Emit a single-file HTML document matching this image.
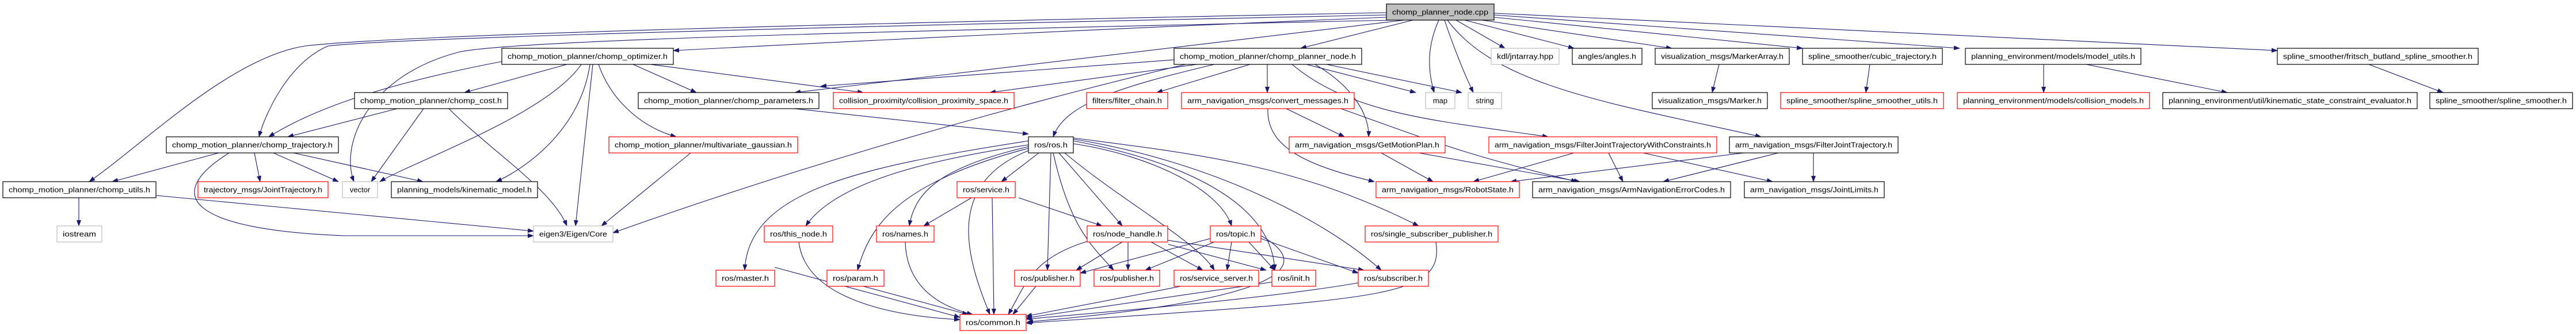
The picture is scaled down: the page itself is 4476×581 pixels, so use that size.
<!DOCTYPE html>
<html><head><meta charset="utf-8"><style>
html,body{margin:0;padding:0;background:#fff}
svg{display:block}
text{font-family:"Liberation Sans",sans-serif;font-size:13px;fill:#000}
.b{fill:#fff;stroke:#000;stroke-width:1.2}
.r{fill:#fff;stroke:#f00;stroke-width:1.2}
.g{fill:#fff;stroke:#bfbfbf;stroke-width:1.2}
path{fill:none;stroke:#191970;stroke-width:1.1}
</style></head><body>
<svg width="4476" height="581" viewBox="0 0 4476 581" xmlns="http://www.w3.org/2000/svg">
<defs><marker id="a" markerWidth="11" markerHeight="8" refX="10" refY="4" orient="auto" markerUnits="userSpaceOnUse"><polygon points="0,0 11,4 0,8" fill="#191970"/></marker></defs>
<g marker-end="url(#a)">
<path d="M2409,22 C1500,40 700,60 530,80 C400,100 250,250 155,316"/>
<path d="M2409,26 C1500,45 700,65 570,80 C500,110 460,200 450,238"/>
<path d="M2409,30 Q1800,55 1170,88"/>
<path d="M2420,35 C1500,55 900,70 800,90 C640,130 590,250 615,316"/>
<path d="M2440,35 Q1900,100 1381,161"/>
<path d="M2455,35 L2260,84"/>
<path d="M2500,35 C2480,80 2480,120 2492,161"/>
<path d="M2510,35 C2525,80 2545,130 2560,161"/>
<path d="M2530,35 L2615,84"/>
<path d="M2545,35 L2735,84"/>
<path d="M2575,35 L2905,84"/>
<path d="M2596,30 L3132,84"/>
<path d="M2596,26 L3405,84"/>
<path d="M2596,23 L3957,88"/>
<path d="M2515,35 C2600,150 2800,180 3060,238"/>
<path d="M872,107 C700,140 560,180 467,238"/>
<path d="M985,112 L807,161"/>
<path d="M1010,112 C950,200 720,280 660,316"/>
<path d="M1025,112 C1010,220 920,290 862,316"/>
<path d="M1030,112 L1000,393"/>
<path d="M1100,112 L1210,161"/>
<path d="M1130,112 L1500,161"/>
<path d="M1040,112 C1060,170 1110,220 1175,238"/>
<path d="M1200,266 L1045,393"/>
<path d="M690,189 L500,238"/>
<path d="M736,189 L645,316"/>
<path d="M780,189 C850,260 960,330 985,393"/>
<path d="M380,266 L195,316"/>
<path d="M442,266 L452,316"/>
<path d="M475,266 L588,316"/>
<path d="M510,266 L735,316"/>
<path d="M398,266 C280,340 330,400 600,410 L927,410"/>
<path d="M137,344 L137,393"/>
<path d="M271,340 L927,402"/>
<path d="M1380,189 L1787,233"/>
<path d="M2040,104 L1426,150"/>
<path d="M2080,112 L1720,161"/>
<path d="M2110,112 C1950,150 1850,180 1830,238"/>
<path d="M2172,112 L2010,161"/>
<path d="M2202,112 L2202,161"/>
<path d="M2270,112 L2460,161"/>
<path d="M2305,112 L2540,161"/>
<path d="M2285,112 C2350,150 2380,200 2378,238"/>
<path d="M2245,112 C2350,200 2500,210 2690,238"/>
<path d="M2060,112 C1900,150 1500,250 1065,405"/>
<path d="M2235,189 L2336,238"/>
<path d="M2203,189 C2200,260 2280,290 2388,316"/>
<path d="M2330,189 C2500,250 2550,270 2740,316"/>
<path d="M2400,266 L2490,316"/>
<path d="M2465,266 L2745,316"/>
<path d="M2735,266 L2560,316"/>
<path d="M2795,266 L2820,316"/>
<path d="M2855,266 L3080,316"/>
<path d="M3030,266 L2625,316"/>
<path d="M3090,266 L2890,316"/>
<path d="M3151,266 L3151,316"/>
<path d="M2987,112 L2975,161"/>
<path d="M3249,112 L3242,161"/>
<path d="M3551,112 L3551,161"/>
<path d="M3625,112 L3870,161"/>
<path d="M4116,112 L4245,161"/>
<path d="M1805,266 L1740,316"/>
<path d="M1787,252 C1600,280 1450,320 1400,393"/>
<path d="M1787,255 C1640,290 1590,330 1580,393"/>
<path d="M1840,266 L1950,393"/>
<path d="M1865,250 C2000,270 2120,330 2140,393"/>
<path d="M1787,245 C1500,290 1300,330 1294,470"/>
<path d="M1787,258 C1550,320 1510,400 1490,470"/>
<path d="M1826,266 L1820,470"/>
<path d="M1830,266 C1860,400 1900,430 1935,470"/>
<path d="M1850,266 C1950,350 2080,420 2110,470"/>
<path d="M1787,262 C1640,320 1680,450 1720,547"/>
<path d="M1865,245 C2050,280 2210,350 2215,470"/>
<path d="M1865,242 C2100,280 2300,380 2400,470"/>
<path d="M1865,240 C2100,270 2260,290 2465,393"/>
<path d="M1688,344 L1605,393"/>
<path d="M1770,344 L1915,393"/>
<path d="M1724,344 L1727,547"/>
<path d="M1388,421 C1400,520 1550,550 1668,556"/>
<path d="M1573,421 C1575,490 1620,530 1690,547"/>
<path d="M1950,421 L1870,470"/>
<path d="M1960,421 L1960,470"/>
<path d="M2000,421 L2090,470"/>
<path d="M1889,420 C1790,450 1780,500 1752,547"/>
<path d="M2029,418 L2370,470"/>
<path d="M2030,425 L2200,470"/>
<path d="M2103,415 L1877,475"/>
<path d="M2110,421 L1990,470"/>
<path d="M2140,421 L2132,470"/>
<path d="M2170,421 L2215,470"/>
<path d="M2191,415 L2360,475"/>
<path d="M2191,410 C2280,460 2250,520 1785,560"/>
<path d="M1346,465 L1668,552"/>
<path d="M1500,498 L1682,547"/>
<path d="M1800,498 L1760,547"/>
<path d="M2052,498 L1783,550"/>
<path d="M2360,492 C2200,520 1900,545 1783,555"/>
<path d="M2215,490 L1783,553"/>
<path d="M2495,421 C2510,520 2400,520 1783,562"/>
</g>
<g>
<rect x="2409" y="7" width="187" height="28" style="fill:#bfbfbf;stroke:#000;stroke-width:1.2"/><text x="2502.5" y="25.5" text-anchor="middle" textLength="167" lengthAdjust="spacingAndGlyphs">chomp_planner_node.cpp</text>

<rect class="b" x="872" y="84" width="298" height="28"/><text x="1021" y="102.5" text-anchor="middle" textLength="278" lengthAdjust="spacingAndGlyphs">chomp_motion_planner/chomp_optimizer.h</text>
<rect class="b" x="2040" y="84" width="326" height="28"/><text x="2203" y="102.5" text-anchor="middle" textLength="306" lengthAdjust="spacingAndGlyphs">chomp_motion_planner/chomp_planner_node.h</text>
<rect class="g" x="2591" y="84" width="118" height="28"/><text x="2650" y="102.5" text-anchor="middle" textLength="98" lengthAdjust="spacingAndGlyphs">kdl/jntarray.hpp</text>
<rect class="b" x="2732" y="84" width="121" height="28"/><text x="2792.5" y="102.5" text-anchor="middle" textLength="101" lengthAdjust="spacingAndGlyphs">angles/angles.h</text>
<rect class="b" x="2876" y="84" width="233" height="28"/><text x="2992.5" y="102.5" text-anchor="middle" textLength="213" lengthAdjust="spacingAndGlyphs">visualization_msgs/MarkerArray.h</text>
<rect class="b" x="3132" y="84" width="243" height="28"/><text x="3253.5" y="102.5" text-anchor="middle" textLength="223" lengthAdjust="spacingAndGlyphs">spline_smoother/cubic_trajectory.h</text>
<rect class="b" x="3415" y="84" width="305" height="28"/><text x="3567.5" y="102.5" text-anchor="middle" textLength="285" lengthAdjust="spacingAndGlyphs">planning_environment/models/model_utils.h</text>
<rect class="b" x="3957" y="84" width="349" height="28"/><text x="4131.5" y="102.5" text-anchor="middle" textLength="329" lengthAdjust="spacingAndGlyphs">spline_smoother/fritsch_butland_spline_smoother.h</text>

<rect class="b" x="616" y="161" width="266" height="28"/><text x="749" y="179.5" text-anchor="middle" textLength="246" lengthAdjust="spacingAndGlyphs">chomp_motion_planner/chomp_cost.h</text>
<rect class="b" x="1109" y="161" width="314" height="28"/><text x="1266" y="179.5" text-anchor="middle" textLength="294" lengthAdjust="spacingAndGlyphs">chomp_motion_planner/chomp_parameters.h</text>
<rect class="r" x="1448" y="161" width="314" height="28"/><text x="1605" y="179.5" text-anchor="middle" textLength="294" lengthAdjust="spacingAndGlyphs">collision_proximity/collision_proximity_space.h</text>
<rect class="r" x="1888" y="161" width="141" height="28"/><text x="1958.5" y="179.5" text-anchor="middle" textLength="121" lengthAdjust="spacingAndGlyphs">filters/filter_chain.h</text>
<rect class="r" x="2053" y="161" width="300" height="28"/><text x="2203" y="179.5" text-anchor="middle" textLength="280" lengthAdjust="spacingAndGlyphs">arm_navigation_msgs/convert_messages.h</text>
<rect class="g" x="2477" y="161" width="51" height="28"/><text x="2502.5" y="179.5" text-anchor="middle">map</text>
<rect class="g" x="2551" y="161" width="58" height="28"/><text x="2580" y="179.5" text-anchor="middle">string</text>
<rect class="b" x="2871" y="161" width="200" height="28"/><text x="2971" y="179.5" text-anchor="middle" textLength="180" lengthAdjust="spacingAndGlyphs">visualization_msgs/Marker.h</text>
<rect class="r" x="3094" y="161" width="283" height="28"/><text x="3235.5" y="179.5" text-anchor="middle" textLength="263" lengthAdjust="spacingAndGlyphs">spline_smoother/spline_smoother_utils.h</text>
<rect class="r" x="3401" y="161" width="334" height="28"/><text x="3568" y="179.5" text-anchor="middle" textLength="314" lengthAdjust="spacingAndGlyphs">planning_environment/models/collision_models.h</text>
<rect class="b" x="3758" y="161" width="442" height="28"/><text x="3979" y="179.5" text-anchor="middle" textLength="422" lengthAdjust="spacingAndGlyphs">planning_environment/util/kinematic_state_constraint_evaluator.h</text>
<rect class="b" x="4222" y="161" width="248" height="28"/><text x="4346" y="179.5" text-anchor="middle" textLength="228" lengthAdjust="spacingAndGlyphs">spline_smoother/spline_smoother.h</text>

<rect class="b" x="289" y="238" width="299" height="28"/><text x="438.5" y="256.5" text-anchor="middle" textLength="279" lengthAdjust="spacingAndGlyphs">chomp_motion_planner/chomp_trajectory.h</text>
<rect class="r" x="1058" y="238" width="328" height="28"/><text x="1222" y="256.5" text-anchor="middle" textLength="308" lengthAdjust="spacingAndGlyphs">chomp_motion_planner/multivariate_gaussian.h</text>
<rect class="b" x="1787" y="238" width="78" height="28"/><text x="1826" y="256.5" text-anchor="middle" textLength="58" lengthAdjust="spacingAndGlyphs">ros/ros.h</text>
<rect class="r" x="2240" y="238" width="271" height="28"/><text x="2375.5" y="256.5" text-anchor="middle" textLength="251" lengthAdjust="spacingAndGlyphs">arm_navigation_msgs/GetMotionPlan.h</text>
<rect class="r" x="2587" y="238" width="396" height="28"/><text x="2785" y="256.5" text-anchor="middle" textLength="376" lengthAdjust="spacingAndGlyphs">arm_navigation_msgs/FilterJointTrajectoryWithConstraints.h</text>
<rect class="b" x="3005" y="238" width="293" height="28"/><text x="3151.5" y="256.5" text-anchor="middle" textLength="273" lengthAdjust="spacingAndGlyphs">arm_navigation_msgs/FilterJointTrajectory.h</text>

<rect class="b" x="5" y="316" width="266" height="28"/><text x="138" y="334.5" text-anchor="middle" textLength="246" lengthAdjust="spacingAndGlyphs">chomp_motion_planner/chomp_utils.h</text>
<rect class="r" x="344" y="316" width="226" height="28"/><text x="457" y="334.5" text-anchor="middle" textLength="206" lengthAdjust="spacingAndGlyphs">trajectory_msgs/JointTrajectory.h</text>
<rect class="g" x="595" y="316" width="61" height="28"/><text x="625.5" y="334.5" text-anchor="middle">vector</text>
<rect class="b" x="680" y="316" width="254" height="28"/><text x="807" y="334.5" text-anchor="middle" textLength="234" lengthAdjust="spacingAndGlyphs">planning_models/kinematic_model.h</text>
<rect class="r" x="1663" y="316" width="101" height="28"/><text x="1713.5" y="334.5" text-anchor="middle" textLength="81" lengthAdjust="spacingAndGlyphs">ros/service.h</text>
<rect class="r" x="2391" y="316" width="249" height="28"/><text x="2515.5" y="334.5" text-anchor="middle" textLength="229" lengthAdjust="spacingAndGlyphs">arm_navigation_msgs/RobotState.h</text>
<rect class="b" x="2663" y="316" width="344" height="28"/><text x="2835" y="334.5" text-anchor="middle" textLength="324" lengthAdjust="spacingAndGlyphs">arm_navigation_msgs/ArmNavigationErrorCodes.h</text>
<rect class="b" x="3031" y="316" width="243" height="28"/><text x="3152.5" y="334.5" text-anchor="middle" textLength="223" lengthAdjust="spacingAndGlyphs">arm_navigation_msgs/JointLimits.h</text>

<rect class="g" x="99" y="393" width="78" height="28"/><text x="138" y="411.5" text-anchor="middle" textLength="58" lengthAdjust="spacingAndGlyphs">iostream</text>
<rect class="g" x="927" y="393" width="138" height="28"/><text x="996" y="411.5" text-anchor="middle" textLength="118" lengthAdjust="spacingAndGlyphs">eigen3/Eigen/Core</text>
<rect class="r" x="1328" y="393" width="119" height="28"/><text x="1387.5" y="411.5" text-anchor="middle" textLength="99" lengthAdjust="spacingAndGlyphs">ros/this_node.h</text>
<rect class="r" x="1523" y="393" width="100" height="28"/><text x="1573" y="411.5" text-anchor="middle" textLength="80" lengthAdjust="spacingAndGlyphs">ros/names.h</text>
<rect class="r" x="1889" y="393" width="140" height="28"/><text x="1959" y="411.5" text-anchor="middle" textLength="120" lengthAdjust="spacingAndGlyphs">ros/node_handle.h</text>
<rect class="r" x="2103" y="393" width="88" height="28"/><text x="2147" y="411.5" text-anchor="middle" textLength="68" lengthAdjust="spacingAndGlyphs">ros/topic.h</text>
<rect class="r" x="2372" y="393" width="231" height="28"/><text x="2487.5" y="411.5" text-anchor="middle" textLength="211" lengthAdjust="spacingAndGlyphs">ros/single_subscriber_publisher.h</text>

<rect class="r" x="1244" y="470" width="102" height="28"/><text x="1295" y="488.5" text-anchor="middle" textLength="82" lengthAdjust="spacingAndGlyphs">ros/master.h</text>
<rect class="r" x="1437" y="470" width="99" height="28"/><text x="1486.5" y="488.5" text-anchor="middle" textLength="79" lengthAdjust="spacingAndGlyphs">ros/param.h</text>
<rect class="r" x="1763" y="470" width="114" height="28"/><text x="1820" y="488.5" text-anchor="middle" textLength="94" lengthAdjust="spacingAndGlyphs">ros/publisher.h</text>
<rect class="r" x="1901" y="470" width="114" height="28"/><text x="1958" y="488.5" text-anchor="middle" textLength="94" lengthAdjust="spacingAndGlyphs">ros/publisher.h</text>
<rect class="r" x="2040" y="470" width="147" height="28"/><text x="2113.5" y="488.5" text-anchor="middle" textLength="127" lengthAdjust="spacingAndGlyphs">ros/service_server.h</text>
<rect class="r" x="2210" y="470" width="76" height="28"/><text x="2248" y="488.5" text-anchor="middle" textLength="56" lengthAdjust="spacingAndGlyphs">ros/init.h</text>
<rect class="r" x="2360" y="470" width="122" height="28"/><text x="2421" y="488.5" text-anchor="middle" textLength="102" lengthAdjust="spacingAndGlyphs">ros/subscriber.h</text>

<rect class="r" x="1668" y="547" width="115" height="28"/><text x="1725.5" y="565.5" text-anchor="middle" textLength="95" lengthAdjust="spacingAndGlyphs">ros/common.h</text>
</g>
</svg>
</body></html>
